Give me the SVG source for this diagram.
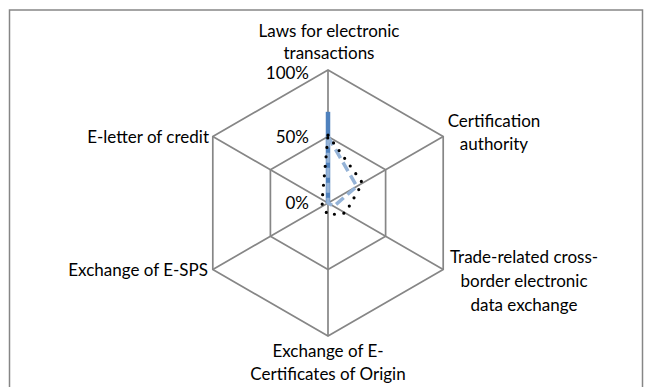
<svg xmlns="http://www.w3.org/2000/svg" width="645" height="387" viewBox="0 0 645 387">
<style>
.grid{fill:none;stroke:#868686;stroke-width:1.7}
.lbl{font-family:Lato,"Liberation Sans",sans-serif;font-size:17px;fill:#000}
.s1{fill:none;stroke:#4F81BD;stroke-width:4.5}
.s2{fill:none;stroke:#95B3D7;stroke-width:3.5;stroke-dasharray:10 5;stroke-linejoin:round}
.s3{fill:none;stroke:#000;stroke-width:3.2;stroke-dasharray:0 9.5;stroke-linecap:round;stroke-linejoin:round}
</style>
<rect x="0" y="0" width="645" height="387" fill="#fff"/>
<rect id="frame" x="9.5" y="10" width="633" height="390" fill="#fff" stroke="#868686" stroke-width="1.5"/>
<g id="grid">
<polygon class="grid" points="328,70 443.2,136.5 443.2,269.5 328,336 212.8,269.5 212.8,136.5"/>
<polygon class="grid" points="328,136.5 385.6,169.75 385.6,236.25 328,269.5 270.4,236.25 270.4,169.75"/>
<path class="grid" d="M328,203L328,70M328,203L443.2,136.5M328,203L443.2,269.5M328,203L328,336M328,203L212.8,269.5M328,203L212.8,136.5"/>
</g>
<g id="connectors">
<path class="s1" d="M328,203L328,111.8"/>
<path class="s2" d="M328,136.5L356.8,186.4L333.8,206.3L328,203Z"/>
<path class="s3" d="M328,135.2L362.5,183L345.3,213L328,215L322.2,206.3L322.2,199.7Z"/>
</g>
<g id="scale" class="lbl" text-anchor="end">
<text x="309" y="79">100%</text>
<text x="309" y="143">50%</text>
<text x="309" y="209">0%</text>
</g>
<g id="n-laws" class="lbl" text-anchor="middle">
<text x="329" y="37">Laws for electronic</text>
<text x="329" y="59">transactions</text>
</g>
<g id="n-cert" class="lbl" text-anchor="middle">
<text x="494" y="127">Certification</text>
<text x="494" y="150">authority</text>
</g>
<g id="n-trade" class="lbl" text-anchor="middle">
<text x="524" y="263">Trade-related cross-</text>
<text x="524" y="287">border electronic</text>
<text x="524" y="311">data exchange</text>
</g>
<g id="n-origin" class="lbl" text-anchor="middle">
<text x="328" y="357">Exchange of E-</text>
<text x="328" y="380">Certificates of Origin</text>
</g>
<g id="n-sps" class="lbl" text-anchor="end">
<text x="208" y="276">Exchange of E-SPS</text>
</g>
<g id="n-lc" class="lbl" text-anchor="end">
<text x="209" y="143">E-letter of credit</text>
</g>
</svg>
